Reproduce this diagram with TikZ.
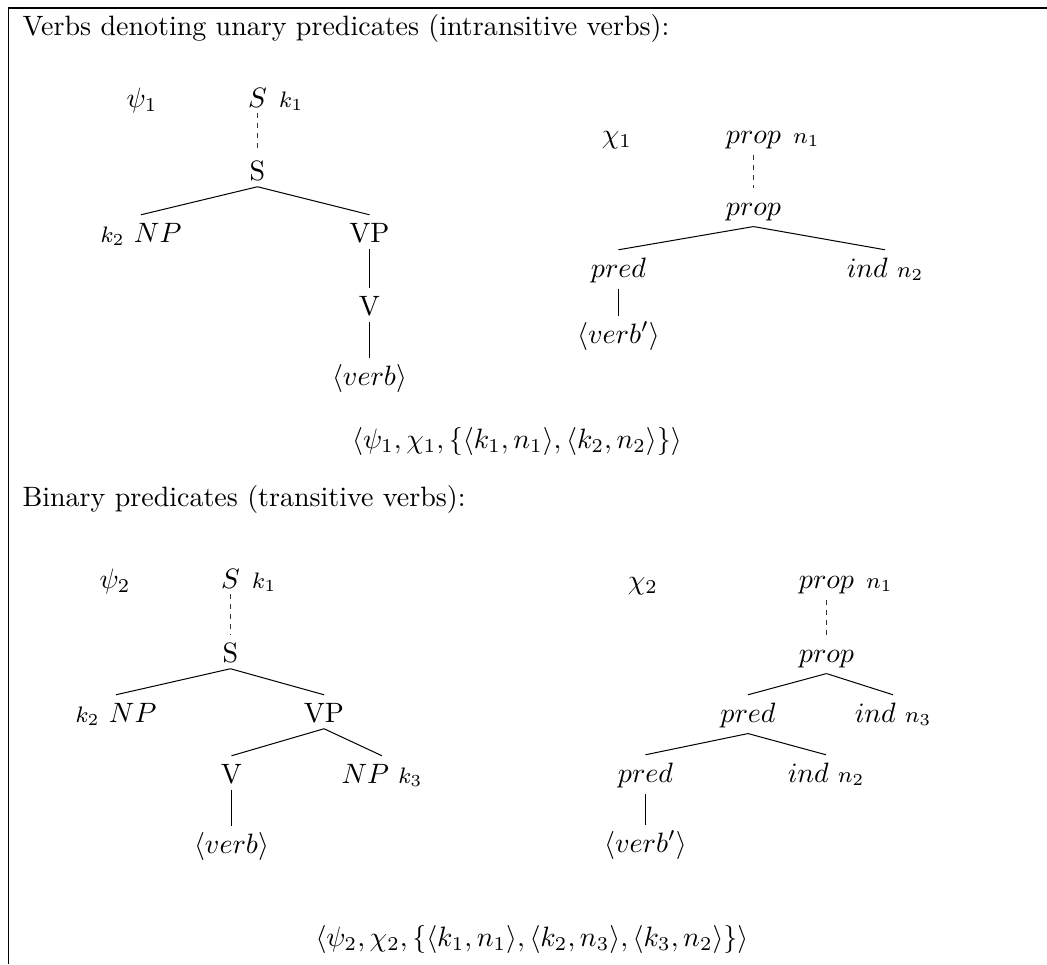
\documentclass[tikz,border=0pt]{standalone}
\usepackage{tikz}
\usetikzlibrary{positioning}
\usepackage{amsmath,amssymb}

\begin{document}
\begin{tikzpicture}[
  x=0.357pt, y=-0.357pt,
  line width=0.36pt,
  tn/.style={anchor=base, inner sep=2pt, text height=1.75ex},
  ann/.style={inner sep=0pt, font=\footnotesize},
  dlink/.style={dash pattern=on 1.8pt off 1.8pt, line width=0.3pt, black!80},
  title/.style={anchor=base west, inner sep=0pt},
  pair/.style={anchor=base, inner sep=0pt}
]
\useasboundingbox (0,0) rectangle (1047,964);

% Frame
\draw[line width=0.7pt] (8.5,964) -- (8.5,8) -- (1047,8);

% Unary predicates
\node[title] (head1) at (22,35) {Verbs denoting unary predicates (intransitive verbs):};

\node[tn] (psi1) at (142,107) {$\psi_1$};
\node[tn] (sa1) at (257.5,107) {$S$};
\node[ann, base right=2pt of sa1] (ka1) {$k_1$};
\node[tn] (s1) at (257.5,180) {S};
\node[tn] (np1) at (141,242) {{\footnotesize$k_2$}\ $NP$};
\node[tn] (vp1) at (369.5,242) {VP};
\node[tn] (v1) at (369.5,315) {V};
\node[tn] (verb1) at (369.5,385) {$\langle verb\rangle$};

\draw[dlink] (sa1.south) -- (s1.north);
\draw (s1.south) -- (np1.north);
\draw (s1.south) -- (vp1.north);
\draw (vp1.south) -- (v1.north);
\draw (v1.south) -- (verb1.north);

\node[tn] (chi1) at (617,143) {$\chi_1$};
\node[tn] (pa1) at (753.5,143) {$prop$};
\node[ann, base right=2pt of pa1] (na1) {$n_1$};
\node[tn] (prop1) at (753.5,215) {$prop$};
\node[tn] (pred1) at (618.5,277) {$pred$};
\node[tn] (ind1) at (885,277) {$ind$ {\footnotesize$n_2$}};
\node[tn] (vbp1) at (618.5,343) {$\langle verb'\rangle$};

\draw[dlink] (pa1.south) -- (prop1.north);
\draw (prop1.south) -- (pred1.north);
\draw (prop1.south) -- (ind1.north);
\draw (pred1.south) -- (vbp1.north);

\node[pair] (pair1) at (517,448) {$\langle\psi_1,\chi_1,\{\langle k_1,n_1\rangle,\langle k_2,n_2\rangle\}\rangle$};

% Binary predicates
\node[title] (head2) at (22,506) {Binary predicates (transitive verbs):};

\node[tn] (psi2) at (115,588) {$\psi_2$};
\node[tn] (sa2) at (230.5,588) {$S$};
\node[ann, base right=2pt of sa2] (ka2) {$k_1$};
\node[tn] (s2) at (230.5,662) {S};
\node[tn] (np2) at (116,722) {{\footnotesize$k_2$}\ $NP$};
\node[tn] (vp2) at (324,722) {VP};
\node[tn] (v2) at (231.5,783) {V};
\node[tn] (np3) at (382,783) {$NP$\ {\footnotesize$k_3$}};
\node[tn] (verb2) at (231.5,853) {$\langle verb\rangle$};

\draw[dlink] (sa2.south) -- (s2.north);
\draw (s2.south) -- (np2.north);
\draw (s2.south) -- (vp2.north);
\draw (vp2.south) -- (v2.north);
\draw (vp2.south) -- (np3.north);
\draw (v2.south) -- (verb2.north);

\node[tn] (chi2) at (643,589) {$\chi_2$};
\node[tn] (pa2) at (826.5,588) {$prop$};
\node[ann, base right=2pt of pa2] (na2) {$n_1$};
\node[tn] (prop2) at (826.5,662) {$prop$};
\node[tn] (pred2) at (748,722) {$pred$};
\node[tn] (ind3) at (893,722) {$ind$ {\footnotesize$n_3$}};
\node[tn] (pred3) at (645.5,782) {$pred$};
\node[tn] (ind2) at (826,782) {$ind$ {\footnotesize$n_2$}};
\node[tn] (vbp2) at (645.5,852) {$\langle verb'\rangle$};

\draw[dlink] (pa2.south) -- (prop2.north);
\draw (prop2.south) -- (pred2.north);
\draw (prop2.south) -- (ind3.north);
\draw (pred2.south) -- (pred3.north);
\draw (pred2.south) -- (ind2.north);
\draw (pred3.south) -- (vbp2.north);

\node[pair] (pair2) at (532,946) {$\langle\psi_2,\chi_2,\{\langle k_1,n_1\rangle,\langle k_2,n_3\rangle,\langle k_3,n_2\rangle\}\rangle$};
\end{tikzpicture}
\end{document}
